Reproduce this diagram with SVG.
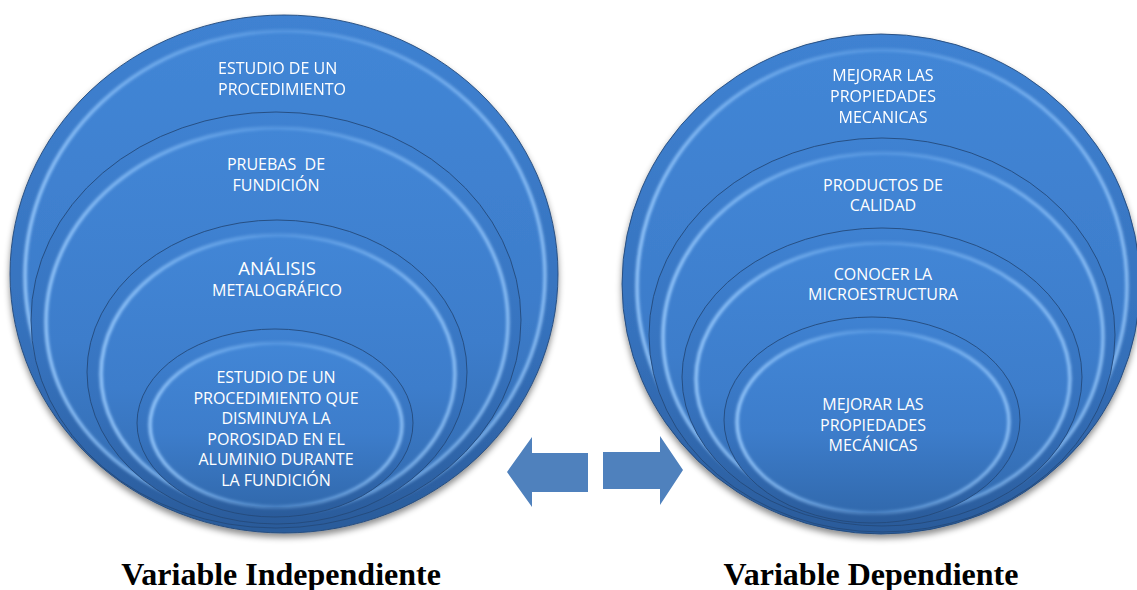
<svg xmlns="http://www.w3.org/2000/svg" width="1137" height="590" viewBox="0 0 1137 590">
<defs>
  <linearGradient id="rim" x1="0" y1="0" x2="0" y2="1">
    <stop offset="0" stop-color="#3f82d2"/>
    <stop offset="0.6" stop-color="#3672bd"/>
    <stop offset="1" stop-color="#2a5b9a"/>
  </linearGradient>
  <linearGradient id="body" x1="0" y1="0" x2="0" y2="1">
    <stop offset="0" stop-color="#4286d6"/>
    <stop offset="0.55" stop-color="#3d7dcb"/>
    <stop offset="1" stop-color="#3169ad"/>
  </linearGradient>
  <linearGradient id="hlg" x1="0" y1="0" x2="1" y2="0">
    <stop offset="0" stop-color="#9ccdff" stop-opacity="1"/>
    <stop offset="0.5" stop-color="#86c0fb" stop-opacity="0.35"/>
    <stop offset="1" stop-color="#9ccdff" stop-opacity="0.9"/>
  </linearGradient>
  <filter id="shadow" x="-10%" y="-10%" width="120%" height="125%">
    <feDropShadow dx="0" dy="4" stdDeviation="3" flood-color="#000" flood-opacity="0.45"/>
  </filter>
  <filter id="soft" x="-5%" y="-5%" width="110%" height="110%">
    <feGaussianBlur stdDeviation="1.4"/>
  </filter>
</defs>
<style>
  .edge { fill: url(#rim); stroke: #24497a; stroke-width: 0.9; }
  .core { fill: url(#body); }
  .hl { fill: none; stroke: url(#hlg); stroke-width: 3.2; filter: url(#soft); }
  .t { font-family: "Open Sans", "Liberation Sans", sans-serif; font-size: 16px; fill: #ffffff; text-anchor: middle; }
  .big { font-size: 18.5px; }
  .lbl { font-family: "Liberation Serif", "Times New Roman", serif; font-size: 32px; font-weight: bold; fill: #000; text-anchor: middle; }
  .arrow { fill: #4f81bd; }
</style>

<g id="left-1" filter="url(#shadow)">
  <ellipse class="edge" cx="284" cy="274" rx="274" ry="259"/>
  <ellipse class="core" cx="285" cy="276" rx="260" ry="245"/>
  <ellipse class="hl" cx="285" cy="276" rx="260" ry="245"/>
  <text class="t" style="text-anchor:start" x="218" y="74">ESTUDIO DE UN</text>
  <text class="t" style="text-anchor:start" x="218" y="95">PROCEDIMIENTO</text>
</g>
<g id="left-2">
  <ellipse class="edge" cx="276" cy="320" rx="245" ry="208"/>
  <ellipse class="core" cx="277" cy="322" rx="231" ry="194"/>
  <ellipse class="hl" cx="277" cy="322" rx="231" ry="194"/>
  <text class="t" x="276" y="170" xml:space="preserve">PRUEBAS  DE</text>
  <text class="t" x="276" y="191">FUNDICIÓN</text>
</g>
<g id="left-3">
  <ellipse class="edge" cx="277" cy="372" rx="190" ry="152"/>
  <ellipse class="core" cx="278" cy="374" rx="177" ry="139"/>
  <ellipse class="hl" cx="278" cy="374" rx="177" ry="139"/>
  <text class="t big" x="277" y="275">ANÁLISIS</text>
  <text class="t" x="277" y="296">METALOGRÁFICO</text>
</g>
<g id="left-4">
  <ellipse class="edge" cx="275" cy="423" rx="138" ry="94"/>
  <ellipse class="core" cx="276" cy="425" rx="126" ry="82"/>
  <ellipse class="hl" cx="276" cy="425" rx="126" ry="82"/>
  <text class="t" x="276" y="383">ESTUDIO DE UN</text>
  <text class="t" x="276" y="404">PROCEDIMIENTO QUE</text>
  <text class="t" x="276" y="424">DISMINUYA LA</text>
  <text class="t" x="276" y="445">POROSIDAD EN EL</text>
  <text class="t" x="276" y="465">ALUMINIO DURANTE</text>
  <text class="t" x="276" y="486">LA FUNDICIÓN</text>
</g>

<g id="right-1" filter="url(#shadow)">
  <ellipse class="edge" cx="881" cy="284" rx="259" ry="250"/>
  <ellipse class="core" cx="882" cy="286" rx="245" ry="236"/>
  <ellipse class="hl" cx="882" cy="286" rx="245" ry="236"/>
  <text class="t" x="883" y="81">MEJORAR LAS</text>
  <text class="t" x="883" y="102">PROPIEDADES</text>
  <text class="t" x="883" y="123">MECANICAS</text>
</g>
<g id="right-2">
  <ellipse class="edge" cx="882" cy="335" rx="233" ry="197"/>
  <ellipse class="core" cx="883" cy="337" rx="220" ry="184"/>
  <ellipse class="hl" cx="883" cy="337" rx="220" ry="184"/>
  <text class="t" x="883" y="191">PRODUCTOS DE</text>
  <text class="t" x="883" y="211">CALIDAD</text>
</g>
<g id="right-3">
  <ellipse class="edge" cx="882" cy="377" rx="200" ry="149"/>
  <ellipse class="core" cx="883" cy="379" rx="187" ry="136"/>
  <ellipse class="hl" cx="883" cy="379" rx="187" ry="136"/>
  <text class="t" x="883" y="280">CONOCER LA</text>
  <text class="t" x="883" y="300">MICROESTRUCTURA</text>
</g>
<g id="right-4">
  <ellipse class="edge" cx="872" cy="420" rx="148" ry="103"/>
  <ellipse class="core" cx="873" cy="422" rx="136" ry="91"/>
  <ellipse class="hl" cx="873" cy="422" rx="136" ry="91"/>
  <text class="t" x="873" y="410">MEJORAR LAS</text>
  <text class="t" x="873" y="431">PROPIEDADES</text>
  <text class="t" x="873" y="451">MECÁNICAS</text>
</g>

<g id="connectors">
  <polygon class="arrow" points="507,472 532,437 532,453 588,453 588,492 532,492 532,507"/>
  <polygon class="arrow" points="603,452 660,452 660,436 683,470 660,505 660,489 603,489"/>
</g>

<g id="labels">
  <text class="lbl" x="281" y="585">Variable Independiente</text>
  <text class="lbl" x="871" y="585">Variable Dependiente</text>
</g>
</svg>
